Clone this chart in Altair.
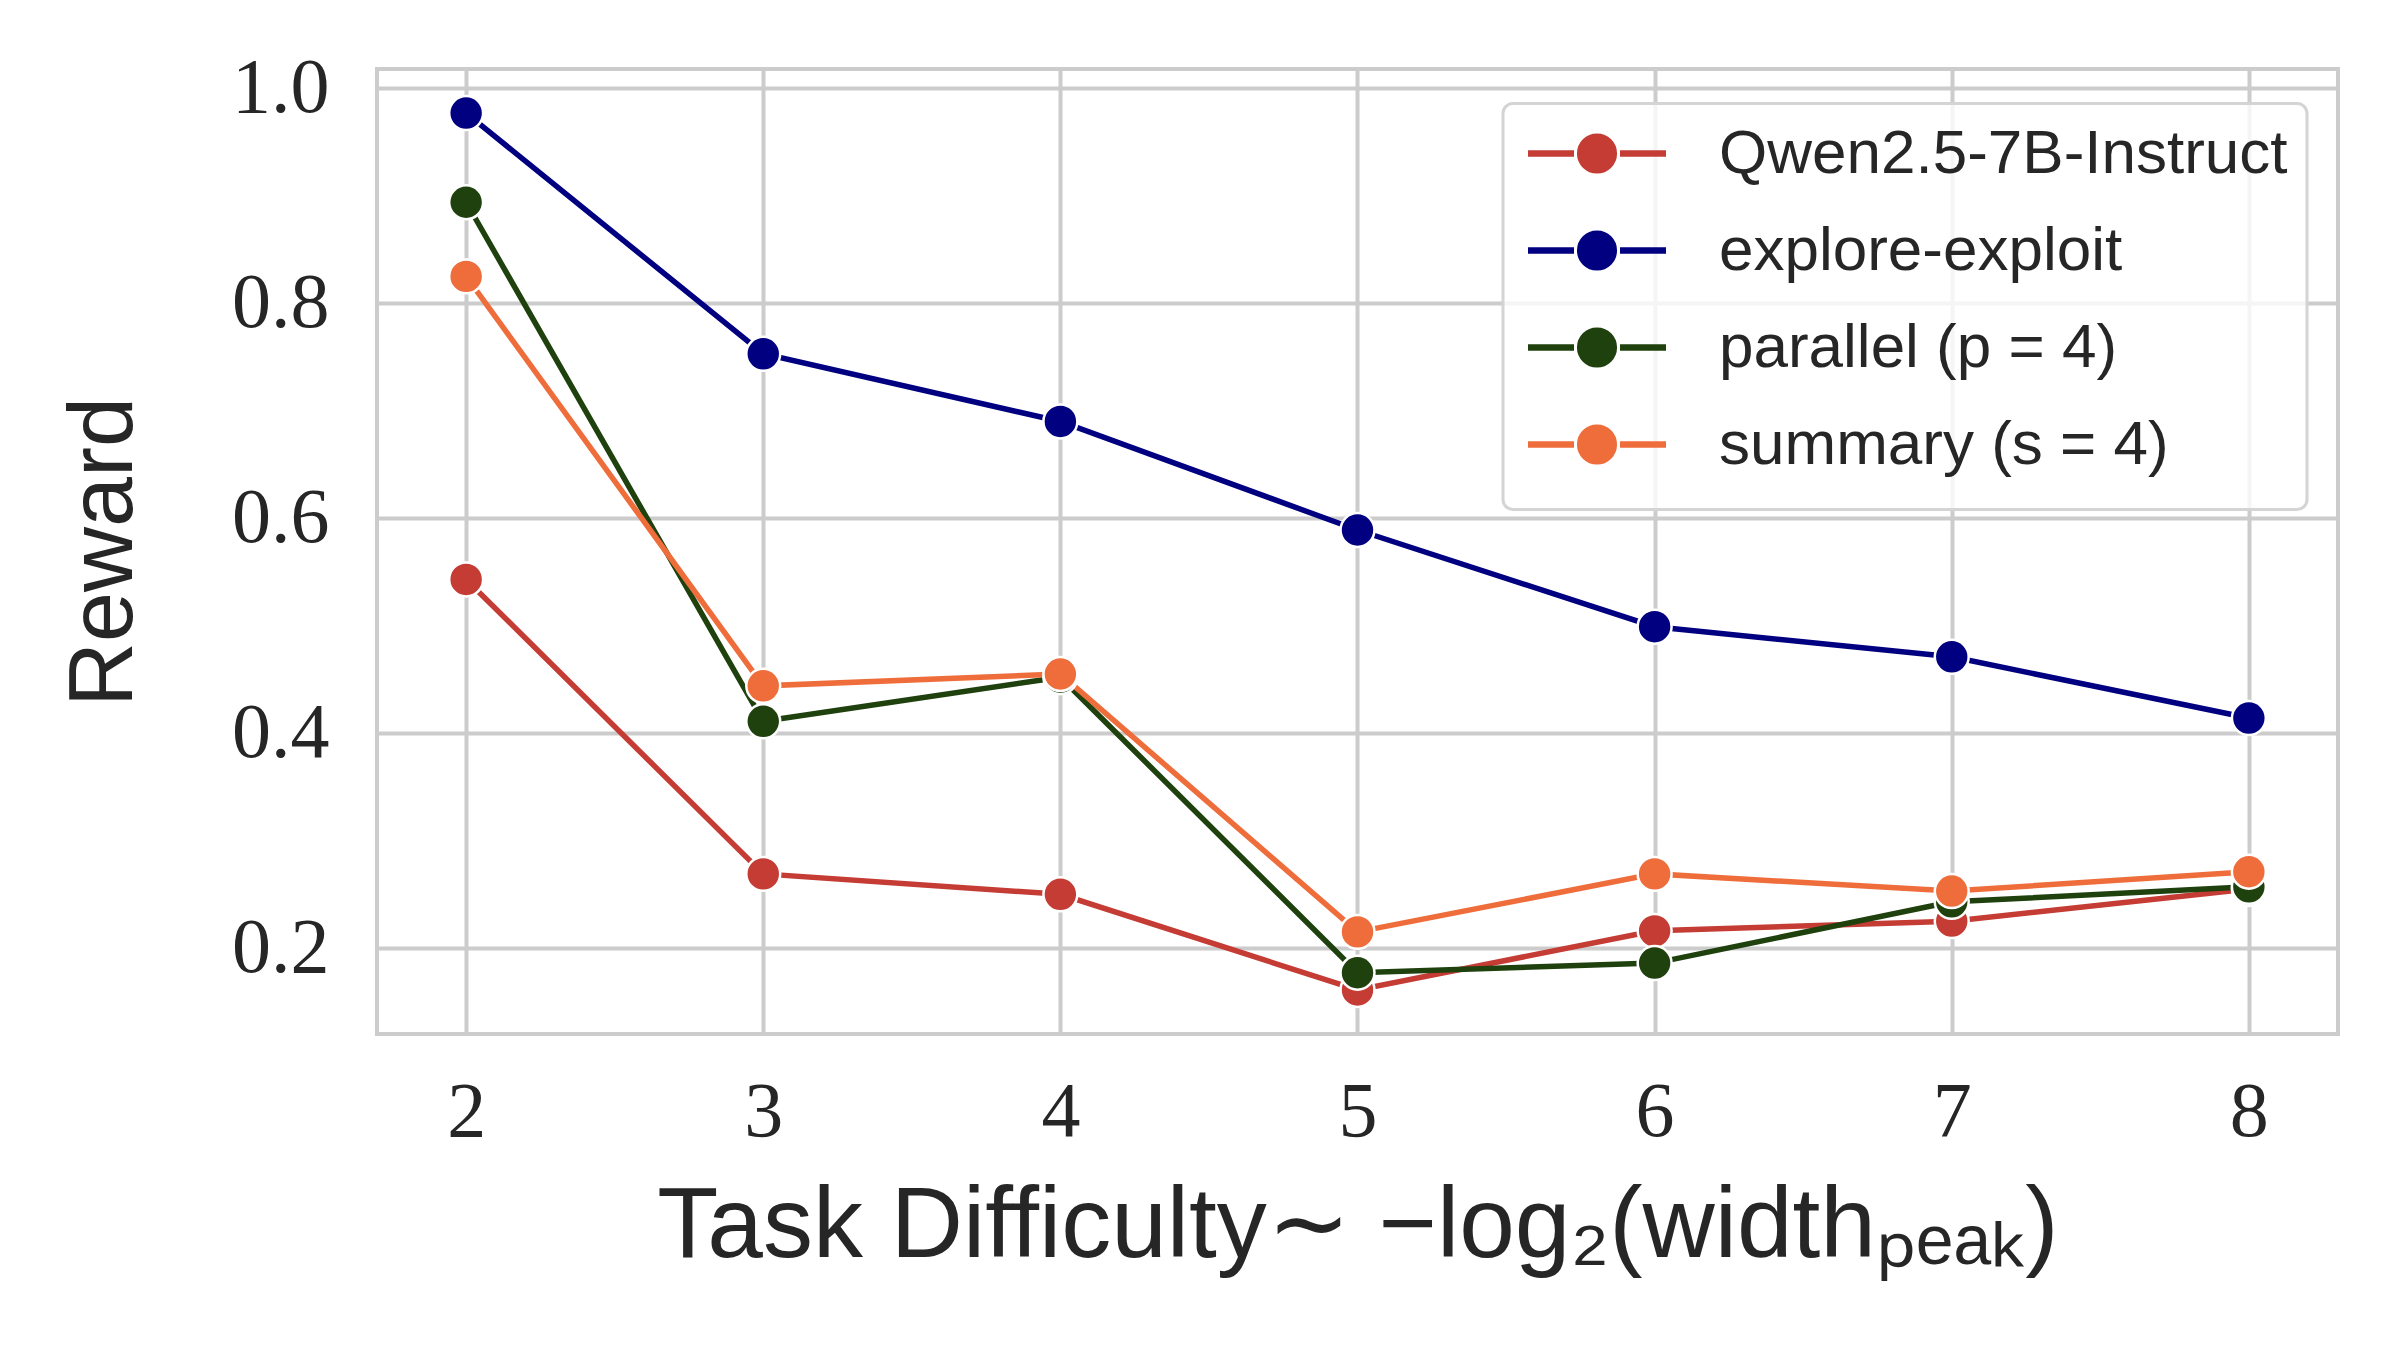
import altair as alt
import pandas as pd

# ---- data ----
x_vals = [2, 3, 4, 5, 6, 7, 8]
series_names = ["Qwen2.5-7B-Instruct", "explore-exploit", "parallel (p = 4)", "summary (s = 4)"]
qwen = [0.543, 0.269, 0.250, 0.161, 0.216, 0.225, 0.255]
explore = [0.977, 0.753, 0.690, 0.589, 0.499, 0.471, 0.414]
parallel = [0.894, 0.411, 0.452, 0.177, 0.186, 0.243, 0.257]
summary = [0.825, 0.444, 0.455, 0.215, 0.269, 0.253, 0.271]
series_colors = ["#c43c34", "#000080", "#1f410e", "#ee6d3b"]
x_ticks = [2, 3, 4, 5, 6, 7, 8]
y_ticks = [0.2, 0.4, 0.6, 0.8, 1.0]
x_title = "Task Difficulty\u223c \u2212log\u2082(width\u209a\u2091\u2090\u2096)"
y_title = "Reward"

rows = []
for k, (name, vals) in enumerate(zip(series_names, [qwen, explore, parallel, summary])):
    for x, v in zip(x_vals, vals):
        rows.append({"x": x, "reward": v, "series": name, "k": k})
df = pd.DataFrame(rows)

TEXT = "#262626"


def ring(r):
    return f"M{r},0A{r},{r},0,1,1,{-r},0A{r},{r},0,1,1,{r},0"


# legend glyph: line - filled dot (drawn as stroked concentric rings) - line
SYMBOL_PATH = "M-3.45,0L-1.15,0M1.15,0L3.45,0" + "".join(
    ring(r) for r in [0.05, 0.27, 0.55, 0.84])

legend = alt.Legend(
    title=" ", titleOrient="bottom", titleFontSize=12, titlePadding=4,
    orient="none", legendX=1126, legendY=34.5,
    symbolType=SYMBOL_PATH, symbolSize=1600, symbolStrokeWidth=6.5,
    labelFont="Liberation Sans", labelFontSize=62, labelColor=TEXT,
    labelOffset=91, symbolOffset=44, padding=19, rowPadding=35,
    labelLimit=2000, strokeColor="#d4d4d4", fillColor="rgba(255,255,255,0.8)",
    cornerRadius=10, symbolOpacity=1,
)

color_scale = alt.Scale(domain=series_names, range=series_colors)

x_enc = alt.X("x:Q",
              scale=alt.Scale(domain=[1.7, 8.3], nice=False, zero=False),
              axis=alt.Axis(values=x_ticks, format="d", title=x_title, grid=True,
                            ticks=False, tickSize=0, domain=False, labelFlush=False,
                            labelFont="Liberation Serif", labelFontSize=78,
                            labelBaseline="alphabetic", labelPadding=101,
                            titleFont="Liberation Sans", titleFontSize=100,
                            titleFontWeight="normal",
                            titleX=980.5, titleY=222, titleBaseline="alphabetic",
                            titleAlign="center"))
y_enc = alt.Y("reward:Q",
              scale=alt.Scale(domain=[0.12, 1.018], nice=False, zero=False),
              axis=alt.Axis(values=y_ticks, format=".1f", title=y_title, grid=True,
                            ticks=False, tickSize=0, domain=False,
                            labelFont="Liberation Serif", labelFontSize=78,
                            labelPadding=48,
                            titleFont="Liberation Sans", titleFontSize=90,
                            titleFontWeight="normal",
                            titleX=-246, titleY=482.5, titleAngle=270,
                            titleBaseline="alphabetic", titleAlign="center"))

base = alt.Chart(df)
lines = base.mark_line(strokeWidth=5.5).encode(
    x=x_enc, y=y_enc,
    color=alt.Color("series:N", scale=color_scale, legend=legend),
    detail="series:N", order="x:Q")
points = base.mark_point(filled=True, size=1150, stroke="white", strokeWidth=2.5,
                         opacity=1).encode(
    x=x_enc, y=y_enc,
    color=alt.Color("series:N", scale=color_scale, legend=None),
    order="k:Q")

chart = alt.layer(lines, points).properties(
    width=1961, height=965,
    autosize=alt.AutoSizeParams(type="none"),
    padding={"left": 369, "top": 61, "right": 50, "bottom": 320},
    background="white",
).configure_axis(
    gridColor="#cccccc", gridWidth=4, labelColor=TEXT, titleColor=TEXT,
).configure_view(
    stroke="#cccccc", strokeWidth=4,
).configure_legend(
    strokeWidth=3,
)

chart.save("out.html", embed_options={"renderer": "svg", "actions": False})
